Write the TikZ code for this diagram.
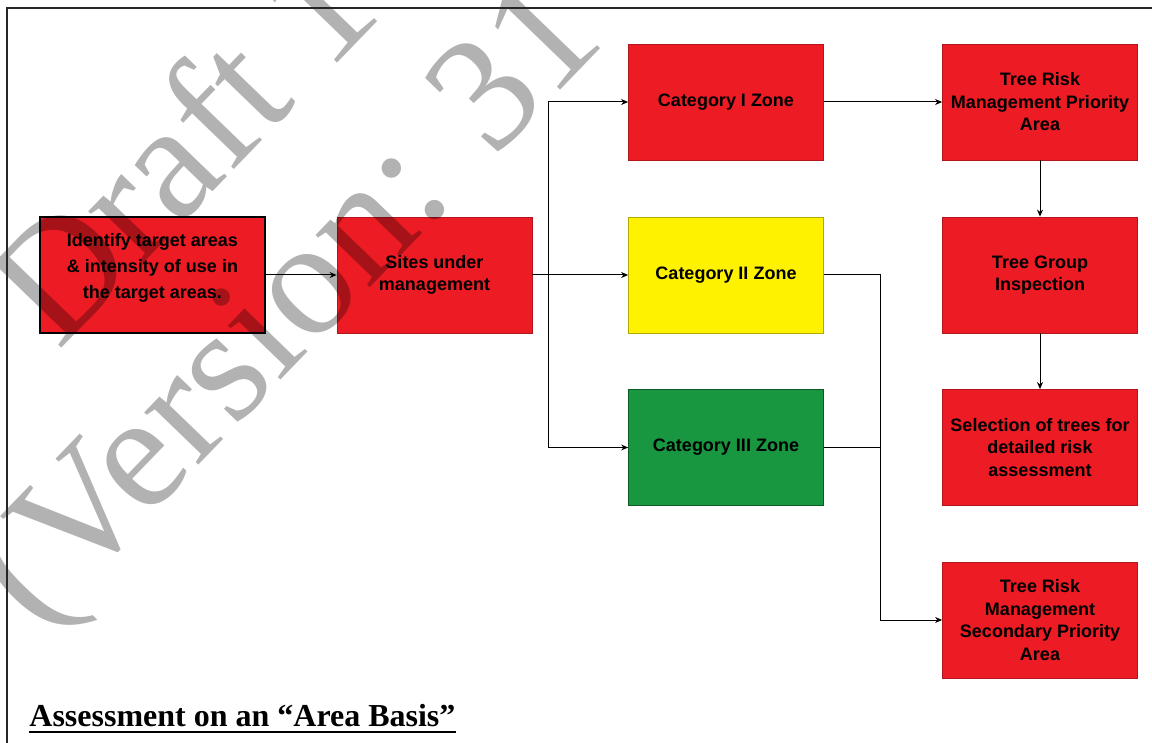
\documentclass[tikz,border=0pt]{standalone}
\usepackage{fontspec}
\setmainfont{Liberation Sans}
\newfontfamily\serifwm{Liberation Serif}
\usetikzlibrary{arrows.meta, positioning}

\definecolor{zonered}{RGB}{237,28,36}
\definecolor{zoneyellow}{RGB}{255,242,0}
\definecolor{zonegreen}{RGB}{24,150,64}

\begin{document}
\begin{tikzpicture}[x=0.5pt, y=-0.5pt, >={Stealth[length=3.5pt,width=3pt]},
    zonebox/.style={draw=zonered!75!black, line width=0.4pt, fill=zonered,
        minimum width=97.5pt, minimum height=58pt, inner sep=1pt, align=center,
        font=\bfseries\fontsize{9}{11.25}\selectfont},
    link/.style={->, line width=0.5pt},
    wmark/.style={font=\serifwm\fontsize{82}{82}\selectfont, text=black,
        text opacity=0.3, inner sep=0pt, anchor=base west, rotate=46}]
    \useasboundingbox (0,0) rectangle (1152,743);

    % Left side: target areas and sites
    \node[zonebox, draw=black, line width=1pt, minimum width=112.5pt, text depth=9pt,
        font=\bfseries\fontsize{9}{13}\selectfont] (target) at (152.5,275)
        {Identify target areas\\ \& intensity of use in\\ the target areas.};
    \node[zonebox] (sites) at (434.5,275) {Sites under\\ management};

    % Zone categories
    \node[zonebox] (cat1) at (726,102) {Category I Zone};
    \node[zonebox, fill=zoneyellow, draw=zoneyellow!70!black] (cat2) at (726,275) {Category II Zone};
    \node[zonebox, fill=zonegreen, draw=zonegreen!60!black] (cat3) at (726,447.5) {Category III Zone};

    % Right column
    \node[zonebox] (priority) at (1040,102) {Tree Risk\\ Management Priority\\ Area};
    \node[zonebox] (group) at (1040,275) {Tree Group\\ Inspection};
    \node[zonebox] (selection) at (1040,447.5) {Selection of trees for\\ detailed risk\\ assessment};
    \node[zonebox] (secondary) at (1040,620) {Tree Risk\\ Management\\ Secondary Priority\\ Area};

    % Connectors
    \coordinate (split) at (548,275);
    \coordinate (merge) at (880,620);
    \draw[link] (target) -- (sites);
    \draw[link] (sites) -- (cat2);
    \draw[link] (split) |- (cat1);
    \draw[link] (split) |- (cat3);
    \draw[link] (cat1) -- (priority);
    \draw[link] (priority) -- (group);
    \draw[link] (group) -- (selection);
    \draw[link] (cat2.east) -| (merge) -- (secondary.west);
    \draw[line width=0.5pt] (cat3.east) -- (cat3.east -| merge);

    % Caption
    \node[font=\serifwm\bfseries\fontsize{16}{19}\selectfont, inner sep=0pt, anchor=base west]
        (caption) at (29,726) {Assessment on an “Area Basis”};
    \draw[line width=1pt] ([yshift=-3pt]caption.base west) -- ([yshift=-3pt]caption.base east);

    % Watermark
    \begin{scope}
        \clip (0,0) rectangle (1152,743);
        \node[wmark] (wmdraft) at (58,352) {Draft 1};
        \node[wmark] (wmversion) at (38,632) {(Version: 31};
    \end{scope}

    % Frame
    \draw[line width=1pt, black!85] (7,743) -- (7,8) -- (1152,8);
\end{tikzpicture}
\end{document}
